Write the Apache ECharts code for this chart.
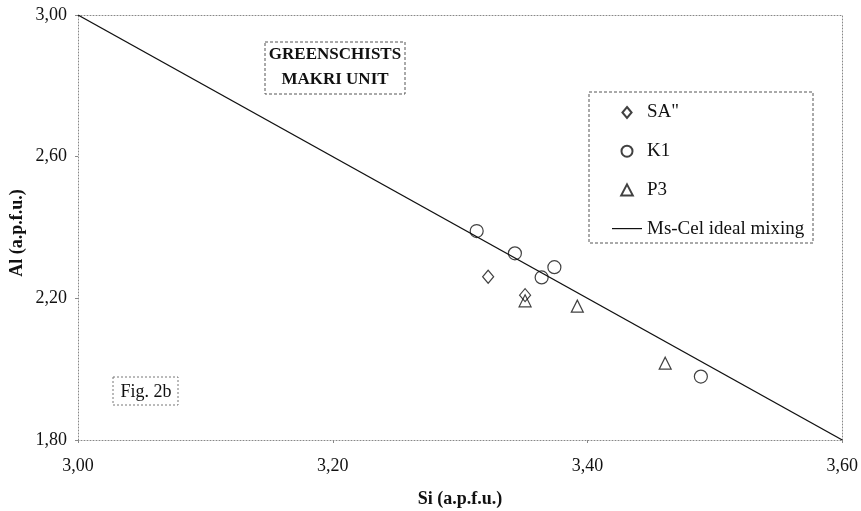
<!DOCTYPE html>
<html>
<head>
<meta charset="utf-8">
<style>
html,body{margin:0;padding:0;background:#fff;}
#chart{width:861px;height:511px;}
</style>
<script src="https://cdn.jsdelivr.net/npm/echarts@6/dist/echarts.min.js"></script>
</head>
<body>
<div id="chart"></div>
<script>
// Data
const saSi = [3.322, 3.351];
const saAl = [2.261, 2.209];
const k1Si = [3.313, 3.343, 3.364, 3.374, 3.489];
const k1Al = [2.390, 2.327, 2.259, 2.288, 1.979];
const p3Si = [3.351, 3.392, 3.461];
const p3Al = [2.193, 2.178, 2.017];
const lineSi = [3.00, 3.60];
const lineAl = [3.00, 1.80];
const seriesNames = ['SA"', 'K1', 'P3', 'Ms-Cel ideal mixing'];

const zip = (a, b) => a.map((v, i) => [v, b[i]]);
const fmt = v => v.toFixed(2).replace('.', ',');
const FONT = '"Liberation Serif", "DejaVu Serif", serif';
const markerStyle = { color: 'rgba(0,0,0,0)', borderColor: '#111', borderWidth: 1.2 };
const dotted = { color: '#888', type: [1, 2], width: 1 };

const ICON_DIAMOND = 'path://M5,0 L10,6 L5,12 L0,6 Z';
const ICON_CIRCLE = 'path://M5,0 A5,5 0 1 1 4.99,0 Z';
const ICON_TRIANGLE = 'path://M5,0 L10,9.5 L0,9.5 Z';
const ICON_LINE = 'path://M0,0 L30,0 L30,1.2 L0,1.2 Z';

const chart = echarts.init(document.getElementById('chart'));
chart.setOption({
  backgroundColor: '#fff',
  animation: false,
  textStyle: { fontFamily: FONT },
  grid: { left: 78, right: 18, top: 15, bottom: 71 },
  xAxis: [{
    type: 'value', min: 3.0, max: 3.6, interval: 0.2,
    axisLine: { show: true, lineStyle: dotted },
    axisTick: { show: true, length: 3, lineStyle: { color: '#888' } },
    splitLine: { show: false },
    axisLabel: { formatter: fmt, color: '#111', fontSize: 18, fontFamily: FONT, margin: 17 }
  }, {
    type: 'value', min: 3.0, max: 3.6, position: 'top',
    axisLine: { show: true, onZero: false, lineStyle: dotted },
    axisTick: { show: false }, axisLabel: { show: false }, splitLine: { show: false }
  }],
  yAxis: [{
    type: 'value', min: 1.8, max: 3.0, interval: 0.4,
    axisLine: { show: true, lineStyle: dotted },
    axisTick: { show: true, length: 3, lineStyle: { color: '#888' } },
    splitLine: { show: false },
    axisLabel: { formatter: fmt, color: '#111', fontSize: 18, fontFamily: FONT, margin: 11 }
  }, {
    type: 'value', min: 1.8, max: 3.0, position: 'right',
    axisLine: { show: true, onZero: false, lineStyle: dotted },
    axisTick: { show: false }, axisLabel: { show: false }, splitLine: { show: false }
  }],
  legend: {
    orient: 'vertical', left: 607, top: 98,
    itemWidth: 30, itemHeight: 11, itemGap: 19.7,
    symbolKeepAspect: true,
    textStyle: { fontFamily: FONT, fontSize: 19, color: '#111' },
    data: [
      { name: seriesNames[0], icon: ICON_DIAMOND },
      { name: seriesNames[1], icon: ICON_CIRCLE },
      { name: seriesNames[2], icon: ICON_TRIANGLE },
      { name: seriesNames[3], icon: ICON_LINE }
    ]
  },
  graphic: [
    { type: 'rect', shape: { x: 589, y: 92, width: 224, height: 151 },
      style: { fill: 'none', stroke: '#555', lineWidth: 1, lineDash: [3, 2] }, z: 10 },
    { type: 'rect', shape: { x: 265, y: 42, width: 140, height: 52 },
      style: { fill: '#fff', stroke: '#555', lineWidth: 1, lineDash: [3, 2] }, z: 10 },
    { type: 'text', x: 335, y: 55, z: 11,
      style: { text: 'GREENSCHISTS', font: 'bold 17px ' + FONT, fill: '#111', textAlign: 'center', textVerticalAlign: 'middle' } },
    { type: 'text', x: 335, y: 80, z: 11,
      style: { text: 'MAKRI UNIT', font: 'bold 17px ' + FONT, fill: '#111', textAlign: 'center', textVerticalAlign: 'middle' } },
    { type: 'rect', shape: { x: 113, y: 377, width: 65, height: 28 },
      style: { fill: '#fff', stroke: '#777', lineWidth: 1, lineDash: [2, 2] }, z: 10 },
    { type: 'text', x: 146, y: 392, z: 11,
      style: { text: 'Fig. 2b', font: '18px ' + FONT, fill: '#111', textAlign: 'center', textVerticalAlign: 'middle' } },
    { type: 'text', x: 460, y: 499, z: 11,
      style: { text: 'Si (a.p.f.u.)', font: 'bold 18px ' + FONT, fill: '#111', textAlign: 'center', textVerticalAlign: 'middle' } },
    { type: 'text', x: 17, y: 233, rotation: Math.PI / 2, z: 11,
      style: { text: 'Al (a.p.f.u.)', font: 'bold 18px ' + FONT, fill: '#111', textAlign: 'center', textVerticalAlign: 'middle' } }
  ],
  series: [
    { name: seriesNames[3], type: 'line', data: zip(lineSi, lineAl),
      symbol: 'none', lineStyle: { color: '#111', width: 1.4 }, itemStyle: { color: '#111' }, z: 2 },
    { name: seriesNames[0], type: 'scatter', symbol: 'diamond', symbolSize: [11, 13],
      data: zip(saSi, saAl), itemStyle: markerStyle, z: 3 },
    { name: seriesNames[1], type: 'scatter', symbol: 'circle', symbolSize: 13,
      data: zip(k1Si, k1Al), itemStyle: markerStyle, z: 3 },
    { name: seriesNames[2], type: 'scatter', symbol: 'triangle', symbolSize: 12,
      data: zip(p3Si, p3Al), itemStyle: markerStyle, z: 3 }
  ]
});
</script>
</body>
</html>
